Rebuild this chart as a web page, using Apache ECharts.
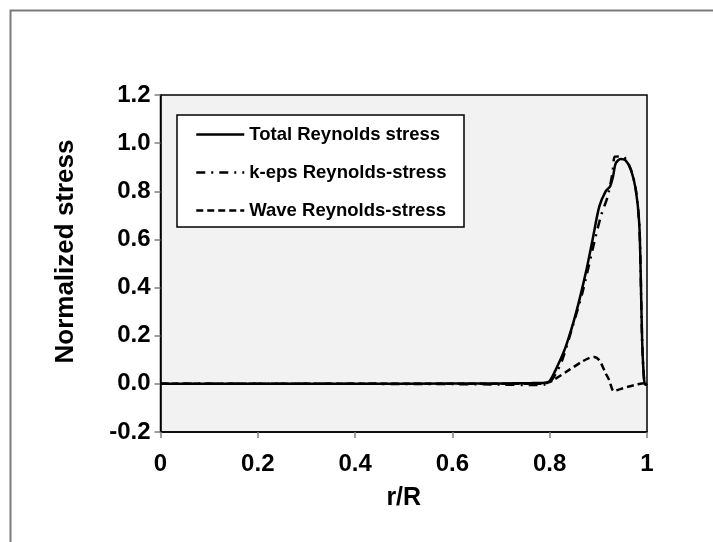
<!DOCTYPE html>
<html>
<head>
<meta charset="utf-8">
<script src="https://cdn.jsdelivr.net/npm/echarts@6/dist/echarts.min.js"></script>
<style>
html,body{margin:0;padding:0;background:#fff;}
#chart{width:713px;height:542px;}
</style>
</head>
<body>
<div id="chart"></div>
<script>
// Data (r/R, normalized stress)
var seriesNames = ['Total Reynolds stress', 'k-eps Reynolds-stress', 'Wave Reynolds-stress'];
var totalX = [0, 0.2, 0.4, 0.6, 0.7, 0.76, 0.79, 0.8, 0.815, 0.833, 0.854, 0.874, 0.888, 0.902, 0.915, 0.924, 0.930, 0.936, 0.946, 0.956, 0.967, 0.977, 0.984, 0.987, 0.990, 0.994, 0.997, 1.0];
var totalY = [0, 0, 0, 0.001, 0.002, 0.003, 0.005, 0.012, 0.07, 0.155, 0.294, 0.46, 0.598, 0.737, 0.80, 0.82, 0.86, 0.917, 0.934, 0.928, 0.889, 0.806, 0.668, 0.46, 0.18, 0.017, -0.004, 0];
var kepsX = [0, 0.2, 0.4, 0.6, 0.7, 0.76, 0.79, 0.799, 0.812, 0.826, 0.847, 0.867, 0.888, 0.905, 0.919, 0.929, 0.934, 0.944, 0.953, 0.967, 0.977, 0.984, 0.987, 0.990, 0.994, 0.997, 1.0];
var kepsY = [0, 0, 0, -0.001, -0.003, -0.005, -0.003, 0.003, 0.04, 0.10, 0.238, 0.377, 0.557, 0.695, 0.778, 0.875, 0.944, 0.945, 0.942, 0.889, 0.806, 0.668, 0.46, 0.18, 0.017, -0.004, 0];
var waveX = [0, 0.2, 0.4, 0.6, 0.7, 0.78, 0.795, 0.806, 0.84, 0.867, 0.882, 0.891, 0.902, 0.915, 0.922, 0.932, 0.945, 0.963, 0.977, 0.994, 1.0];
var waveY = [0, 0, 0, 0, 0, 0, 0.004, 0.014, 0.058, 0.093, 0.108, 0.112, 0.098, 0.044, 0.017, -0.030, -0.022, -0.011, -0.004, 0.003, 0];
var xTicks = [0, 0.2, 0.4, 0.6, 0.8, 1];
var yTicks = [-0.2, 0, 0.2, 0.4, 0.6, 0.8, 1.0, 1.2];

function pairs(xs, ys){ return xs.map(function(x,i){ return [x, ys[i]]; }); }

var chart = echarts.init(document.getElementById('chart'), null, {renderer:'canvas'});
var FONT = 'Liberation Sans, Arial, sans-serif';
chart.setOption({
  animation: false,
  backgroundColor: '#ffffff',
  grid: {
    left: 160.5, top: 95, right: 66, bottom: 110,
    show: true, backgroundColor: '#f2f2f2', borderColor: '#000', borderWidth: 1.5
  },
  graphic: [
    {type:'rect', z: 0, silent:true, shape:{x:10.5, y:10.5, width:900, height:800},
     style:{fill:'none', stroke:'#7a7a7a', lineWidth:2}},
    {type:'rect', z: 3, silent:true, shape:{x:177, y:115, width:287, height:112},
     style:{fill:'#ffffff', stroke:'#000', lineWidth:1.5}}
  ],
  legend: {
    orient: 'vertical', left: 190, top: 120, z: 5,
    itemWidth: 48, itemHeight: 18, itemGap: 19,
    data: seriesNames,
    itemStyle: {opacity: 0, color: 'rgba(0,0,0,0)', borderWidth: 0},
    lineStyle: {color: '#000', opacity: 1, width: 2.5},
    textStyle: {fontFamily: FONT, fontWeight: 'bold', fontSize: 18.5, color: '#000'}
  },
  xAxis: {
    type: 'value', min: xTicks[0], max: xTicks[xTicks.length-1], interval: 0.2,
    name: 'r/R', nameLocation: 'middle', nameGap: 54,
    nameTextStyle: {fontFamily: FONT, fontWeight: 'bold', fontSize: 25, color: '#000'},
    axisLine: {onZero: false, lineStyle: {color: '#000', width: 1.5}},
    axisTick: {show: true, length: 6, lineStyle: {color: '#808080', width: 1.5}},
    splitLine: {show: false},
    axisLabel: {margin: 20, fontFamily: FONT, fontWeight: 'bold', fontSize: 24, color: '#000',
      formatter: function(v){ return (v === 0 || v === 1) ? String(v) : v.toFixed(1); }}
  },
  yAxis: {
    type: 'value', min: yTicks[0], max: yTicks[yTicks.length-1], interval: 0.2,
    name: 'Normalized stress', nameLocation: 'middle', nameGap: 82, nameRotate: 90,
    nameTextStyle: {fontFamily: FONT, fontWeight: 'bold', fontSize: 26, color: '#000', padding: [0, 0, 0, 24]},
    axisLine: {show: true, onZero: false, lineStyle: {color: '#000', width: 1.5}},
    axisTick: {show: true, length: 6, lineStyle: {color: '#808080', width: 1.5}},
    splitLine: {show: false},
    axisLabel: {margin: 10, fontFamily: FONT, fontWeight: 'bold', fontSize: 24, color: '#000',
      formatter: function(v){ return v.toFixed(1); }}
  },
  series: [
    {name: seriesNames[0], type: 'line', data: pairs(totalX, totalY), showSymbol: false, symbol: 'none',
     smooth: 0.3, z: 4, lineStyle: {color: '#000', width: 2.5, type: 'solid'}, itemStyle:{color:'#000'}},
    {name: seriesNames[1], type: 'line', data: pairs(kepsX, kepsY), showSymbol: false, symbol: 'none',
     smooth: 0.3, z: 3, lineStyle: {color: '#000', width: 2.5, type: [9, 6, 2, 6]}, itemStyle:{color:'#000'}},
    {name: seriesNames[2], type: 'line', data: pairs(waveX, waveY), showSymbol: false, symbol: 'none',
     smooth: 0.3, z: 3, lineStyle: {color: '#000', width: 2.5, type: [7, 4]}, itemStyle:{color:'#000'}}
  ]
});
</script>
</body>
</html>
